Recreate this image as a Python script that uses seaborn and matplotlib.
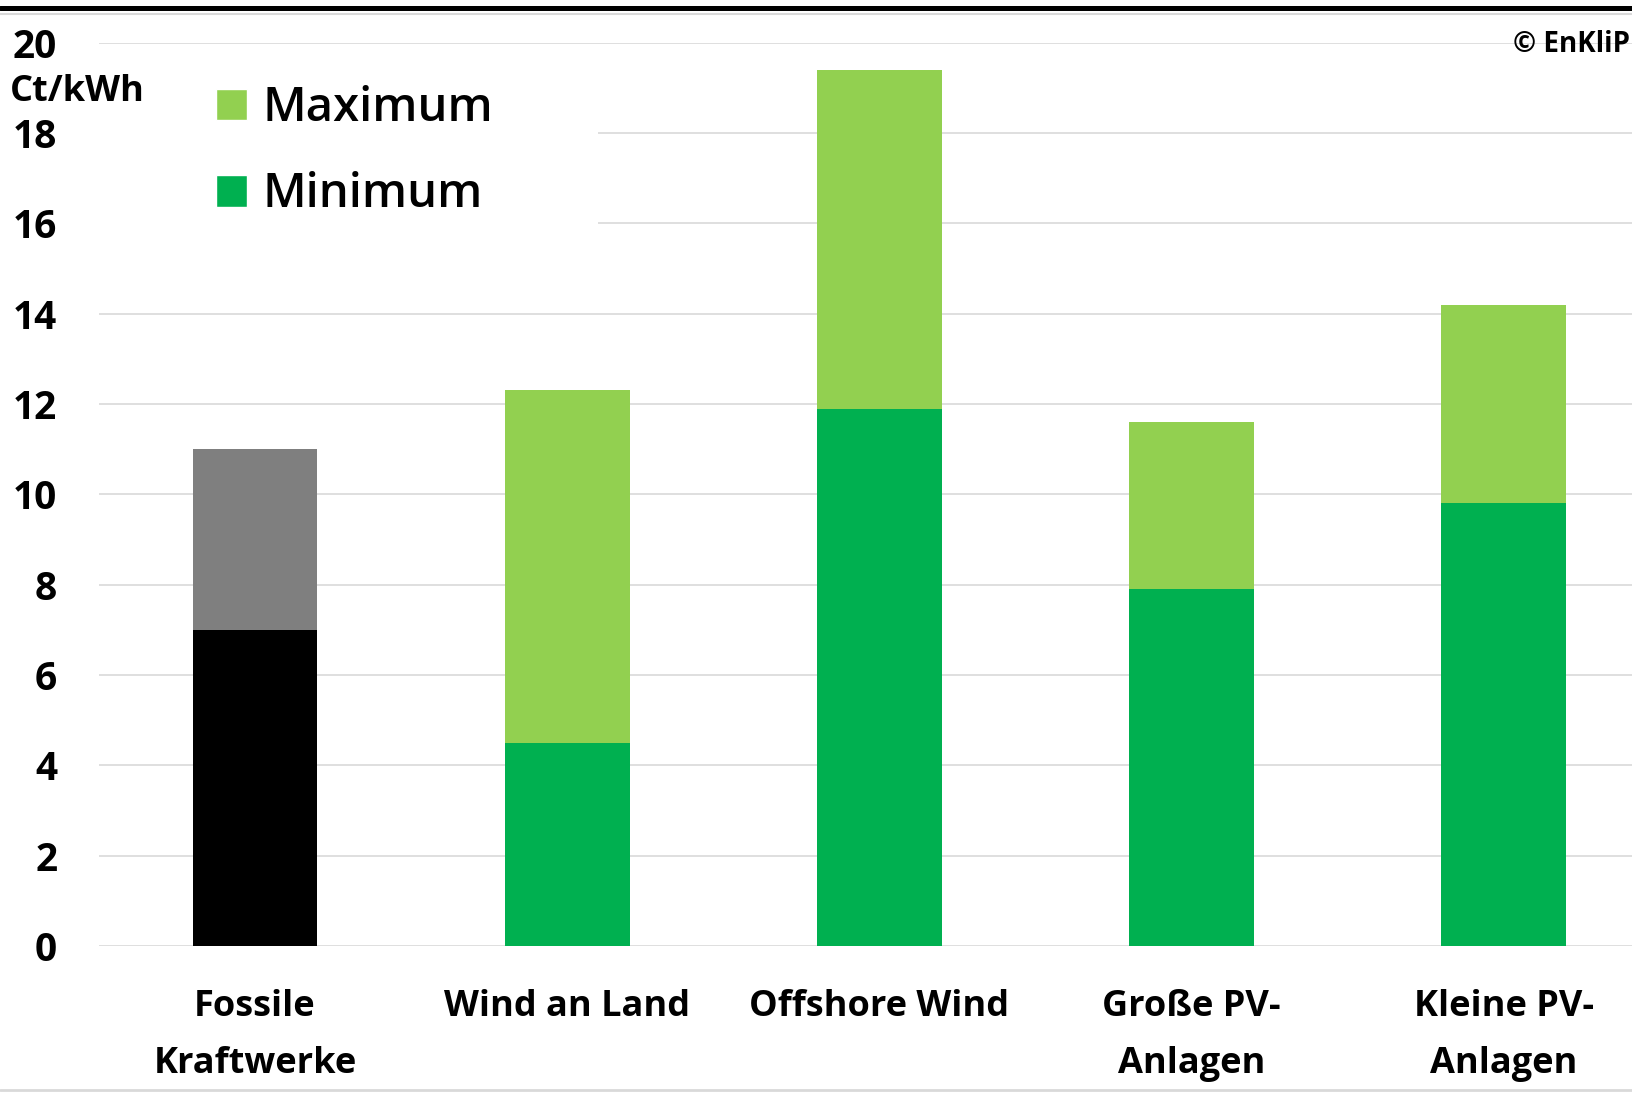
import matplotlib
matplotlib.use("Agg")
import matplotlib.pyplot as plt
import seaborn as sns
import pandas as pd
from matplotlib.patches import Patch, Rectangle
from matplotlib.lines import Line2D

# Stromgestehungskosten in Ct/kWh
categories = ["Fossile\nKraftwerke", "Wind an Land", "Offshore Wind",
              "Große PV-\nAnlagen", "Kleine PV-\nAnlagen"]
cost_min = [7.0, 4.5, 11.9, 7.9, 9.8]
cost_max = [11.0, 12.3, 19.4, 11.6, 14.2]
y_ticks = list(range(0, 21, 2))
legend_labels = ["Maximum", "Minimum"]

color_max = ["#7F7F7F", "#92D050", "#92D050", "#92D050", "#92D050"]
color_min = ["#000000", "#00B050", "#00B050", "#00B050", "#00B050"]

sns.set_theme(style="white")
plt.rcParams["font.family"] = ["Open Sans", "DejaVu Sans"]
plt.rcParams["text.color"] = "black"
plt.rcParams["xtick.color"] = "black"
plt.rcParams["ytick.color"] = "black"

W, H = 1632, 1096
fig = plt.figure(figsize=(W / 100, H / 100), dpi=100)
ax = fig.add_axes([98.9 / W, 1 - 946 / H, 1561 / W, (946 - 42.7) / H])

df = pd.DataFrame({"Kategorie": categories, "Minimum": cost_min, "Maximum": cost_max})

# Maximum als volle Säule, Minimum darüber gelegt
sns.barplot(data=df, x="Kategorie", y="Maximum", hue="Kategorie", palette=color_max,
            width=0.4, saturation=1, errorbar=None, legend=False, linewidth=0, ax=ax)
sns.barplot(data=df, x="Kategorie", y="Minimum", hue="Kategorie", palette=color_min,
            width=0.4, saturation=1, errorbar=None, legend=False, linewidth=0, ax=ax)

ax.set_xlim(-0.5, 4.5)
ax.set_ylim(0, 20)
ax.set_xlabel("")
ax.set_ylabel("")
for s in ax.spines.values():
    s.set_visible(False)
ax.set_axisbelow(True)
ax.yaxis.grid(True, color="#D9D9D9", linewidth=1.2)
ax.xaxis.grid(False)

ax.set_yticks(y_ticks)
ax.set_yticklabels([str(t) for t in y_ticks], fontsize=28, fontweight="bold", color="black")
ax.tick_params(axis="y", length=0, pad=30)

ax.set_xticks(range(len(categories)))
ax.set_xticklabels(categories, fontsize=26, fontweight="bold", color="black", linespacing=1.78)
ax.tick_params(axis="x", length=0, pad=31)

# weißer Hintergrund der Legende
ax.add_patch(Rectangle((-0.5, 15), 1.6, 4, facecolor="white", edgecolor="none", zorder=0.8))

handles = [Patch(facecolor="#92D050"), Patch(facecolor="#00B050")]
ax.legend(handles, legend_labels, loc="upper left", bbox_to_anchor=(216 / W, 1 - 85 / H),
          bbox_transform=fig.transFigure, frameon=False, labelcolor="black",
          prop={"size": 34, "weight": "semibold"},
          handlelength=0.66, handleheight=0.66, handletextpad=0.32, labelspacing=0.83,
          borderpad=0, borderaxespad=0)

fig.text(10 / W, 1 - 92 / H, "Ct/kWh", fontsize=26, fontweight="bold", color="black",
         ha="left", va="center")
fig.text(1630 / W, 1 - 45 / H, "© EnKliP", fontsize=20, fontweight="bold", color="black",
         ha="right", va="center")

# Rahmenlinien oben und unten
fig.add_artist(Line2D([0, 1], [1 - 7.5 / H] * 2, color="black", lw=3.6, transform=fig.transFigure))
fig.add_artist(Line2D([0, 1], [1 - 14 / H] * 2, color="#D9D9D9", lw=1.5, transform=fig.transFigure))
fig.add_artist(Line2D([0, 1], [1 - 1090 / H] * 2, color="#D9D9D9", lw=2, transform=fig.transFigure))

fig.savefig("out.png", dpi=100, facecolor="white")
